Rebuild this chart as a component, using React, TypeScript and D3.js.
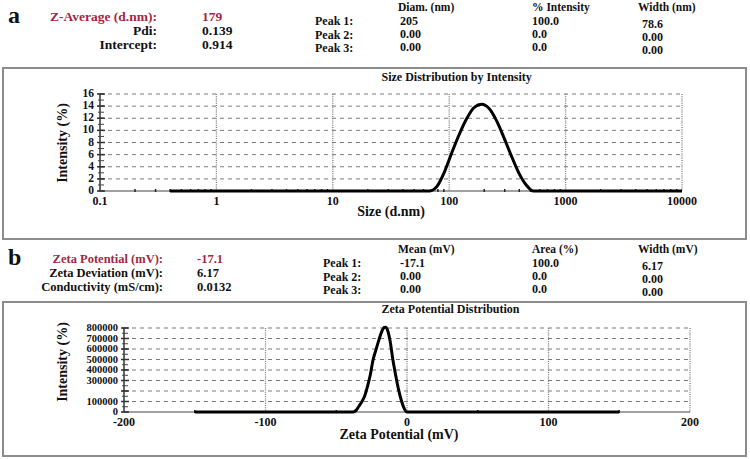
import React, { useEffect, useRef } from 'react';
import * as d3 from 'd3';

// --- panel a: size distribution by intensity ---
const sizeNm = [0.4, 50.75, 58.77, 68.06, 78.82, 91.28, 105.7, 122.4, 141.8, 164.2, 190.1, 220.2, 255.0, 295.3, 342.0, 396.1, 458.7, 531.2, 615.1, 10000];
const sizeIntensity = [0, 0, 0, 0, 0.8, 3.2, 6.4, 9.4, 12.0, 13.8, 14.3, 13.6, 11.6, 8.8, 5.8, 3.0, 1.0, 0, 0, 0];
const sizeXTicks = [0.1, 1, 10, 100, 1000, 10000];
const sizeXTickLabels = ['0.1', '1', '10', '100', '1000', '10000'];
const sizeYTicks = [0, 2, 4, 6, 8, 10, 12, 14, 16];

const sizeSummaryLabels = ['Z-Average (d.nm):', 'Pdi:', 'Intercept:'];
const sizeSummaryValues = ['179', '0.139', '0.914'];
const sizeColumns = ['Diam. (nm)', '% Intensity', 'Width (nm)'];
const sizePeakDiam = ['205', '0.00', '0.00'];
const sizePeakIntensity = ['100.0', '0.0', '0.0'];
const sizePeakWidth = ['78.6', '0.00', '0.00'];

// --- panel b: zeta potential distribution ---
const zetaMv = [-150, -40, -38, -36, -34, -32, -30, -28, -26, -24, -22, -20, -18, -16, -15, -14, -12, -10, -8, -6, -4, -2, 0, 150];
const zetaCounts = [0, 0, 0, 15000, 55000, 95000, 150000, 240000, 350000, 495000, 590000, 680000, 760000, 805000, 808000, 790000, 680000, 500000, 350000, 215000, 110000, 35000, 0, 0];
const zetaXTicks = [-200, -100, 0, 100, 200];
const zetaYTickLabels = [0, 100000, 300000, 400000, 500000, 600000, 700000, 800000];

const zetaSummaryLabels = ['Zeta Potential (mV):', 'Zeta Deviation (mV):', 'Conductivity (mS/cm):'];
const zetaSummaryValues = ['-17.1', '6.17', '0.0132'];
const zetaColumns = ['Mean (mV)', 'Area (%)', 'Width (mV)'];
const zetaPeakMean = ['-17.1', '0.00', '0.00'];
const zetaPeakArea = ['100.0', '0.0', '0.0'];
const zetaPeakWidth = ['6.17', '0.00', '0.00'];

const peakLabels = ['Peak 1:', 'Peak 2:', 'Peak 3:'];

const FONT = '"Liberation Serif", "Times New Roman", serif';
const RED = '#a3283f';
const GRID = '#7a7a7a';

const App = () => {
  const svgRef = useRef(null);

  useEffect(() => {
    const svg = d3.select(svgRef.current);
    svg.selectAll('*').remove();
    svg.style('font-family', FONT).style('font-weight', 'bold');

    const txt = (x, y, s, size, anchor = 'start', fill = '#111') =>
      svg.append('text').attr('x', x).attr('y', y).attr('font-size', size)
        .attr('text-anchor', anchor).attr('fill', fill).text(s);

    // header block helper
    const header = (top, letter, labels, values, labelEnd, valueX, labSize, cols, c1, c2, c3, peakX) => {
      txt(8, top + 2, letter, 24);
      labels.forEach((l, i) => txt(labelEnd, top + i * 14, l, labSize, 'end', i === 0 ? RED : '#111'));
      values.forEach((v, i) => txt(valueX, top + i * 14, v, labSize, 'start', i === 0 ? RED : '#111'));
      peakLabels.forEach((p, i) => txt(peakX, top + 4 + i * 13.5, p, 12));
      const colX = [398, 532, 638];
      cols.forEach((c, i) => txt(colX[i], top - 10, c, 11.5));
      c1.forEach((v, i) => txt(400, top + 4 + i * 13, v, 12));
      c2.forEach((v, i) => txt(532, top + 4 + i * 13, v, 12));
      c3.forEach((v, i) => txt(642, top + 7 + i * 13, v, 12));
    };

    header(21, 'a', sizeSummaryLabels, sizeSummaryValues, 157, 202, 13.5,
      sizeColumns, sizePeakDiam, sizePeakIntensity, sizePeakWidth, 315);
    header(263, 'b', zetaSummaryLabels, zetaSummaryValues, 163, 197, 12.5,
      zetaColumns, zetaPeakMean, zetaPeakArea, zetaPeakWidth, 323);

    // panel helper
    const panel = (cfg) => {
      const { box, title, titleY, x, y, xTicks, xLabels, xMinor, yGrid, yLabels, yMinor, yFont,
        xs, ys, xTitle, xTitleX, xTitleDy, xLabelDy, yTitleY } = cfg;
      svg.append('rect').attr('x', box[0]).attr('y', box[1]).attr('width', box[2]).attr('height', box[3])
        .attr('fill', 'none').attr('stroke', '#8c8c8c').attr('stroke-width', 2);
      txt((box[0] + box[0] + box[2]) / 2 + 7, titleY, title, 12);

      const [x0, x1] = x.range();
      const [yb, yt] = y.range();
      const g = svg.append('g');

      // horizontal dashed grid
      g.selectAll('.hg').data(yGrid.filter(d => d !== 0)).enter().append('line')
        .attr('x1', x0).attr('x2', x1).attr('y1', d => y(d)).attr('y2', d => y(d))
        .attr('stroke', GRID).attr('stroke-width', 1).attr('stroke-dasharray', '4,4');
      // vertical dotted grid
      g.selectAll('.vg').data(xTicks.slice(1)).enter().append('line')
        .attr('x1', d => x(d)).attr('x2', d => x(d)).attr('y1', yt).attr('y2', yb)
        .attr('stroke', GRID).attr('stroke-width', 1.3).attr('stroke-dasharray', '1,1.2');

      // thin baseline and minor x ticks
      g.append('line').attr('x1', x0).attr('x2', x1).attr('y1', yb).attr('y2', yb)
        .attr('stroke', '#444').attr('stroke-width', 1);
      g.selectAll('.xm').data(xMinor).enter().append('line')
        .attr('x1', d => x(d)).attr('x2', d => x(d)).attr('y1', yb - 2).attr('y2', yb + 1)
        .attr('stroke', '#222').attr('stroke-width', 1.5);

      // left axis
      g.append('line').attr('x1', x0).attr('x2', x0).attr('y1', yb).attr('y2', yt)
        .attr('stroke', '#333').attr('stroke-width', 1.5);
      g.selectAll('.ym').data(yMinor).enter().append('line')
        .attr('x1', x0 - 2).attr('x2', x0 + 4).attr('y1', d => y(d)).attr('y2', d => y(d))
        .attr('stroke', '#444').attr('stroke-width', 1);
      g.selectAll('.yM').data(yGrid).enter().append('line')
        .attr('x1', x0 - 3).attr('x2', x0 + 5).attr('y1', d => y(d)).attr('y2', d => y(d))
        .attr('stroke', '#333').attr('stroke-width', 1.5);

      // tick labels
      g.selectAll('.yl').data(yLabels).enter().append('text')
        .attr('x', x0 - 6).attr('y', d => y(d) + 3).attr('text-anchor', 'end')
        .attr('font-size', yFont).attr('fill', '#111').text(d => d);
      g.selectAll('.xl').data(xTicks).enter().append('text')
        .attr('x', d => x(d)).attr('y', yb + xLabelDy).attr('text-anchor', 'middle')
        .attr('font-size', 12).attr('fill', '#111').text((d, i) => xLabels[i]);

      // data line
      const line = d3.line().x(d => x(d[0])).y(d => y(d[1])).curve(d3.curveMonotoneX);
      g.append('path').datum(xs.map((v, i) => [v, ys[i]])).attr('d', line)
        .attr('fill', 'none').attr('stroke', '#000').attr('stroke-width', 3)
        .attr('stroke-linejoin', 'round');

      // axis titles
      txt(xTitleX, yb + xTitleDy, xTitle, 14, 'middle');
      svg.append('text').attr('transform', `translate(67, ${yTitleY}) rotate(-90)`)
        .attr('text-anchor', 'middle').attr('font-size', 14).attr('fill', '#111').text('Intensity (%)');
    };

    const sx = d3.scaleLog().domain([0.1, 10000]).range([100, 682]);
    const sy = d3.scaleLinear().domain([0, 16]).range([191, 94]);
    const sizeMinor = [];
    sizeXTicks.slice(0, -1).forEach(d => [2, 3, 4, 5, 6, 7, 8, 9].forEach(m => sizeMinor.push(d * m)));
    panel({
      box: [3, 68, 743, 171], title: 'Size Distribution by Intensity', titleY: 81,
      x: sx, y: sy, xTicks: sizeXTicks, xLabels: sizeXTickLabels, xMinor: sizeMinor,
      yGrid: sizeYTicks, yLabels: sizeYTicks, yMinor: d3.range(0, 17, 1), yFont: 11.5,
      xs: sizeNm, ys: sizeIntensity, xTitle: 'Size (d.nm)', xTitleX: 391, xTitleDy: 25, xLabelDy: 14,
      yTitleY: 143,
    });

    const zx = d3.scaleLinear().domain([-200, 200]).range([124, 690]);
    const zy = d3.scaleLinear().domain([0, 800000]).range([412, 328]);
    panel({
      box: [3, 302, 743, 154], title: 'Zeta Potential Distribution', titleY: 313,
      x: zx, y: zy, xTicks: zetaXTicks, xLabels: zetaXTicks.map(String), xMinor: [-150, -50, 50, 150],
      yGrid: zy.ticks(8), yLabels: zetaYTickLabels, yMinor: d3.range(0, 800001, 50000), yFont: 10.5,
      xs: zetaMv, ys: zetaCounts, xTitle: 'Zeta Potential (mV)', xTitleX: 399, xTitleDy: 27, xLabelDy: 14,
      yTitleY: 362,
    });
  }, []);

  return (
    <svg ref={svgRef} width={750} height={459}
      style={{ position: 'absolute', left: 0, top: 0, background: '#fff' }}></svg>
  );
};

export default App;
